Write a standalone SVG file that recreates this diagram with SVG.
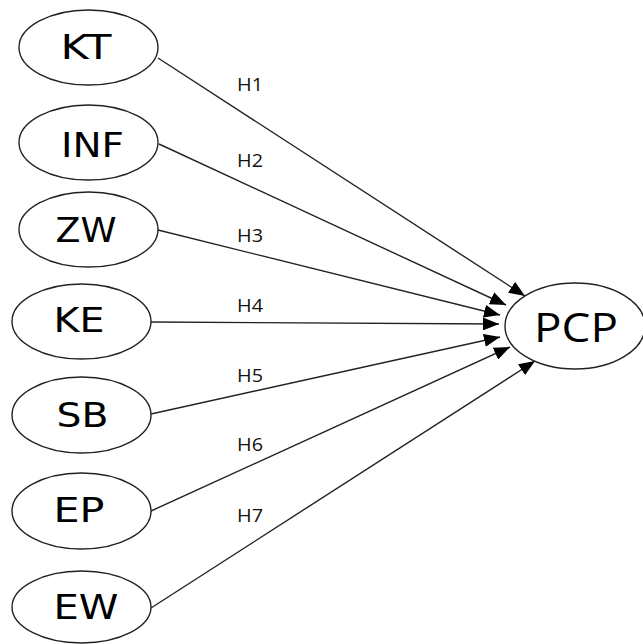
<svg xmlns="http://www.w3.org/2000/svg" width="643" height="644" viewBox="0 0 643 644">
  <defs>
    <marker id="arrow" markerUnits="userSpaceOnUse" markerWidth="16" markerHeight="13" refX="16" refY="6.5" orient="auto">
      <path d="M0,0 L16,6.5 L0,13 Z" fill="#000"/>
    </marker>
    <style>
      .node ellipse { fill: #fff; stroke: #222; stroke-width: 1.4; }
      .node text { font-family: "DejaVu Sans", sans-serif; font-size: 33px; fill: #000; text-anchor: middle; }
      #PCP text { font-family: "Open Sans", sans-serif; font-size: 41px; }
      .edges line { stroke: #222; stroke-width: 1.4; marker-end: url(#arrow); }
      .labels text { font-family: "Open Sans", sans-serif; font-size: 18px; fill: #111; }
    </style>
  </defs>

  <rect width="643" height="644" fill="#fff"/>

  <!-- paths H1..H7 into PCP -->
  <g id="edges" class="edges">
    <line x1="158" y1="58" x2="525" y2="296"/>
    <line x1="159" y1="144" x2="506" y2="305"/>
    <line x1="158" y1="230" x2="500" y2="315"/>
    <line x1="151" y1="322" x2="499" y2="324"/>
    <line x1="151" y1="414" x2="500" y2="337"/>
    <line x1="151" y1="511" x2="510" y2="347"/>
    <line x1="151" y1="608" x2="535" y2="361"/>
  </g>

  <g class="labels">
    <text x="237" y="91" textLength="26" lengthAdjust="spacingAndGlyphs">H1</text>
    <text x="237" y="167" textLength="26" lengthAdjust="spacingAndGlyphs">H2</text>
    <text x="237" y="242" textLength="26" lengthAdjust="spacingAndGlyphs">H3</text>
    <text x="237" y="312" textLength="26" lengthAdjust="spacingAndGlyphs">H4</text>
    <text x="237" y="382" textLength="26" lengthAdjust="spacingAndGlyphs">H5</text>
    <text x="237" y="451" textLength="26" lengthAdjust="spacingAndGlyphs">H6</text>
    <text x="237" y="522" textLength="26" lengthAdjust="spacingAndGlyphs">H7</text>
  </g>

  <g id="KT" class="node">
    <ellipse cx="88.5" cy="47.5" rx="69.5" ry="37.5"/>
    <text x="86" y="59" textLength="51" lengthAdjust="spacingAndGlyphs">KT</text>
  </g>
  <g id="INF" class="node">
    <ellipse cx="88.5" cy="142.5" rx="69.5" ry="37.5"/>
    <text x="92.5" y="157" textLength="63" lengthAdjust="spacingAndGlyphs">INF</text>
  </g>
  <g id="ZW" class="node">
    <ellipse cx="88.5" cy="229.5" rx="69.5" ry="37.5"/>
    <text x="86" y="242" textLength="61" lengthAdjust="spacingAndGlyphs">ZW</text>
  </g>
  <g id="KE" class="node">
    <ellipse cx="81.5" cy="321.5" rx="69.5" ry="37.5"/>
    <text x="79" y="332" textLength="51" lengthAdjust="spacingAndGlyphs">KE</text>
  </g>
  <g id="SB" class="node">
    <ellipse cx="81.5" cy="415" rx="69.5" ry="38"/>
    <text x="82.5" y="427" textLength="52" lengthAdjust="spacingAndGlyphs">SB</text>
  </g>
  <g id="EP" class="node">
    <ellipse cx="81.5" cy="511" rx="69.5" ry="38"/>
    <text x="79" y="522" textLength="51" lengthAdjust="spacingAndGlyphs">EP</text>
  </g>
  <g id="EW" class="node">
    <ellipse cx="81.5" cy="607" rx="69.5" ry="36"/>
    <text x="86" y="619" textLength="65" lengthAdjust="spacingAndGlyphs">EW</text>
  </g>
  <g id="PCP" class="node">
    <ellipse cx="575" cy="326" rx="70" ry="43"/>
    <text x="576" y="342" textLength="84" lengthAdjust="spacingAndGlyphs">PCP</text>
  </g>
</svg>
